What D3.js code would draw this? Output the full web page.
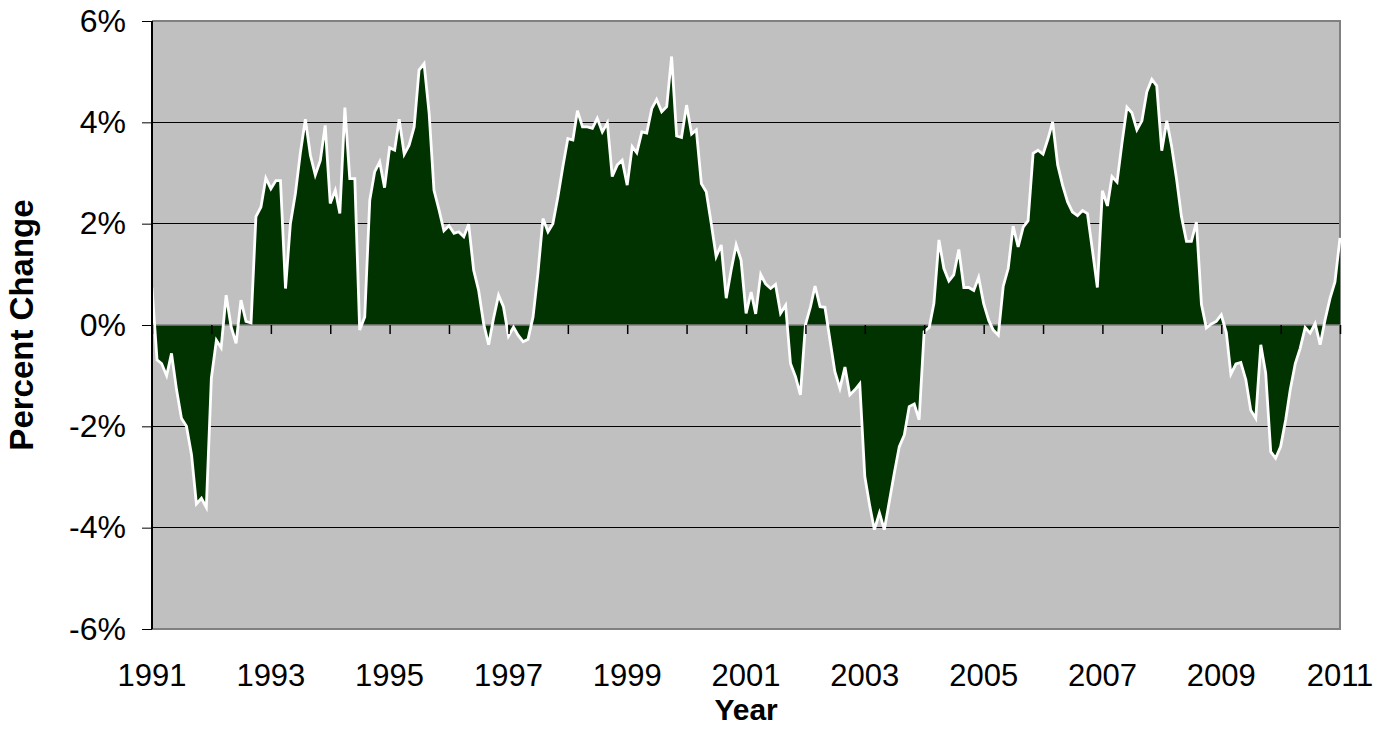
<!DOCTYPE html>
<html>
<head>
<meta charset="utf-8">
<script src="https://cdn.jsdelivr.net/npm/d3@7/dist/d3.min.js"></script>
<style>
  html, body { margin: 0; padding: 0; background: #ffffff; }
  svg { display: block; }
  text { font-family: "Liberation Sans", Arial, sans-serif; fill: #000; }
</style>
</head>
<body>
<svg id="chart" width="1386" height="742"></svg>
<script>
// ---- Data (monthly, Jan 1991 .. Jan 2011), percent change ----
const startYear = 1991;
const endYear = 2011;
const values = [
  0.74, -0.69, -0.76, -1.00, -0.56, -1.28, -1.84, -2.00, -2.56, -3.53, -3.42, -3.60,   // 1991
  -1.05, -0.30, -0.45, 0.59, -0.03, -0.36, 0.49, 0.07, 0.04, 2.14, 2.33, 2.90,         // 1992
  2.69, 2.85, 2.85, 0.72, 2.00, 2.60, 3.39, 4.06, 3.35, 2.96, 3.25, 3.94,              // 1993
  2.40, 2.66, 2.20, 4.29, 2.89, 2.89, -0.10, 0.16, 2.46, 3.02, 3.22, 2.71,             // 1994
  3.50, 3.45, 4.06, 3.37, 3.55, 3.91, 5.03, 5.16, 4.18, 2.66, 2.27, 1.86,              // 1995
  1.96, 1.81, 1.84, 1.74, 1.99, 1.08, 0.69, 0.03, -0.39, 0.13, 0.59, 0.36,             // 1996
  -0.22, -0.04, -0.20, -0.33, -0.28, 0.16, 1.02, 2.10, 1.84, 2.00, 2.53, 3.12,         // 1997
  3.68, 3.65, 4.23, 3.91, 3.91, 3.88, 4.08, 3.81, 3.99, 2.93, 3.16, 3.25,              // 1998
  2.76, 3.52, 3.40, 3.81, 3.79, 4.27, 4.45, 4.21, 4.31, 5.30, 3.73, 3.70,              // 1999
  4.34, 3.77, 3.85, 2.79, 2.63, 2.00, 1.35, 1.58, 0.53, 1.08, 1.58, 1.28,              // 2000
  0.23, 0.65, 0.22, 1.00, 0.81, 0.72, 0.80, 0.23, 0.39, -0.76, -1.02, -1.38,           // 2001
  0.00, 0.36, 0.77, 0.36, 0.35, -0.30, -0.92, -1.25, -0.83, -1.38, -1.28, -1.16,       // 2002
  -2.99, -3.58, -4.04, -3.71, -4.04, -3.48, -2.93, -2.40, -2.17, -1.61, -1.56, -1.87,  // 2003
  -0.13, -0.05, 0.43, 1.68, 1.12, 0.87, 0.99, 1.49, 0.74, 0.74, 0.68, 0.94,            // 2004
  0.42, 0.09, -0.10, -0.20, 0.76, 1.12, 1.95, 1.54, 1.93, 2.06, 3.39, 3.45,            // 2005
  3.37, 3.68, 4.01, 3.16, 2.76, 2.43, 2.23, 2.16, 2.26, 2.20, 1.47, 0.74,              // 2006
  2.65, 2.35, 2.93, 2.82, 3.58, 4.30, 4.19, 3.85, 4.03, 4.60, 4.85, 4.72,              // 2007
  3.44, 4.03, 3.54, 2.88, 2.14, 1.65, 1.65, 2.03, 0.41, -0.06, 0.02, 0.07,             // 2008
  0.20, -0.15, -0.97, -0.77, -0.74, -1.08, -1.68, -1.84, -0.39, -0.95, -2.50, -2.63,   // 2009
  -2.40, -1.87, -1.28, -0.76, -0.46, -0.05, -0.16, 0.03, -0.39, 0.10, 0.53, 0.85,      // 2010
  1.72                                                                                 // 2011
];
const yTicks = [-6, -4, -2, 0, 2, 4, 6];
const xLabelYears = [1991, 1993, 1995, 1997, 1999, 2001, 2003, 2005, 2007, 2009, 2011];
const yTitle = "Percent Change";
const xTitle = "Year";

// ---- Layout ----
const W = 1386, H = 742;
const m = { left: 152, right: 46, top: 21, bottom: 113 };
const pw = W - m.left - m.right;
const ph = H - m.top - m.bottom;

const data = values.map((v, i) => ({ date: new Date(startYear, i, 1), v }));

const x = d3.scaleTime()
  .domain([new Date(startYear, 0, 1), new Date(endYear, 0, 1)])
  .range([m.left, m.left + pw]);
const y = d3.scaleLinear().domain([-6, 6]).range([m.top + ph, m.top]);

const svg = d3.select("#chart");

// Plot background
svg.append("rect")
  .attr("x", m.left).attr("y", m.top)
  .attr("width", pw).attr("height", ph)
  .attr("fill", "#c0c0c0");

// Gridlines
svg.append("g").selectAll("line")
  .data(yTicks.filter(t => t !== 0 && t !== 6 && t !== -6))
  .join("line")
  .attr("x1", m.left).attr("x2", m.left + pw)
  .attr("y1", d => y(d)).attr("y2", d => y(d))
  .attr("stroke", "#000").attr("stroke-width", 1)
  .attr("shape-rendering", "crispEdges");

// Plot border (top, right, bottom) gray
svg.append("path")
  .attr("d", `M${m.left},${m.top}H${m.left + pw}V${m.top + ph}H${m.left}`)
  .attr("fill", "none").attr("stroke", "#808080").attr("stroke-width", 2);

// Area
const area = d3.area()
  .x(d => x(d.date))
  .y0(y(0))
  .y1(d => y(d.v));
svg.append("path").datum(data)
  .attr("d", area)
  .attr("fill", "#003300");

// Zero axis line
svg.append("line")
  .attr("x1", m.left).attr("x2", m.left + pw)
  .attr("y1", y(0)).attr("y2", y(0))
  .attr("stroke", "#808080").attr("stroke-width", 1.5);

// White outline line
const line = d3.line().x(d => x(d.date)).y(d => y(d.v));
svg.append("path").datum(data)
  .attr("d", line)
  .attr("fill", "none")
  .attr("stroke", "#ffffff")
  .attr("stroke-width", 2.8)
  .attr("stroke-linejoin", "miter");

// X tick marks at zero line (every year)
const xAxis = d3.axisBottom(x)
  .ticks(d3.timeYear.every(1))
  .tickSize(9)
  .tickFormat("");
const gx = svg.append("g")
  .attr("transform", `translate(0,${y(0)})`)
  .call(xAxis);
gx.select(".domain").remove();
gx.selectAll(".tick line").attr("stroke", "#000").attr("stroke-width", 1.5);

// X labels at bottom
svg.append("g").selectAll("text")
  .data(xLabelYears)
  .join("text")
  .attr("x", d => x(new Date(d, 0, 1)))
  .attr("y", 686)
  .attr("text-anchor", "middle")
  .attr("font-size", 31)
  .text(d => d);

// Y axis
const yAxis = d3.axisLeft(y)
  .tickValues(yTicks)
  .tickSize(10)
  .tickPadding(16)
  .tickFormat(d => d + "%");
const gy = svg.append("g")
  .attr("transform", `translate(${m.left},0)`)
  .call(yAxis);
gy.select(".domain").attr("stroke", "#000").attr("stroke-width", 2).attr("d", `M0,${m.top}V${m.top + ph}`);
gy.selectAll(".tick line").attr("stroke", "#000");
gy.selectAll(".tick text")
  .attr("font-size", 32)
  .attr("font-family", "'Liberation Sans', Arial, sans-serif")
  .attr("fill", "#000");

// Axis titles
svg.append("text")
  .attr("transform", `translate(33,${y(0)}) rotate(-90)`)
  .attr("text-anchor", "middle")
  .attr("font-size", 33)
  .attr("font-weight", "bold")
  .text(yTitle);

svg.append("text")
  .attr("x", x(new Date(2001, 0, 1)))
  .attr("y", 720)
  .attr("text-anchor", "middle")
  .attr("font-size", 30)
  .attr("font-weight", "bold")
  .text(xTitle);
</script>
</body>
</html>
